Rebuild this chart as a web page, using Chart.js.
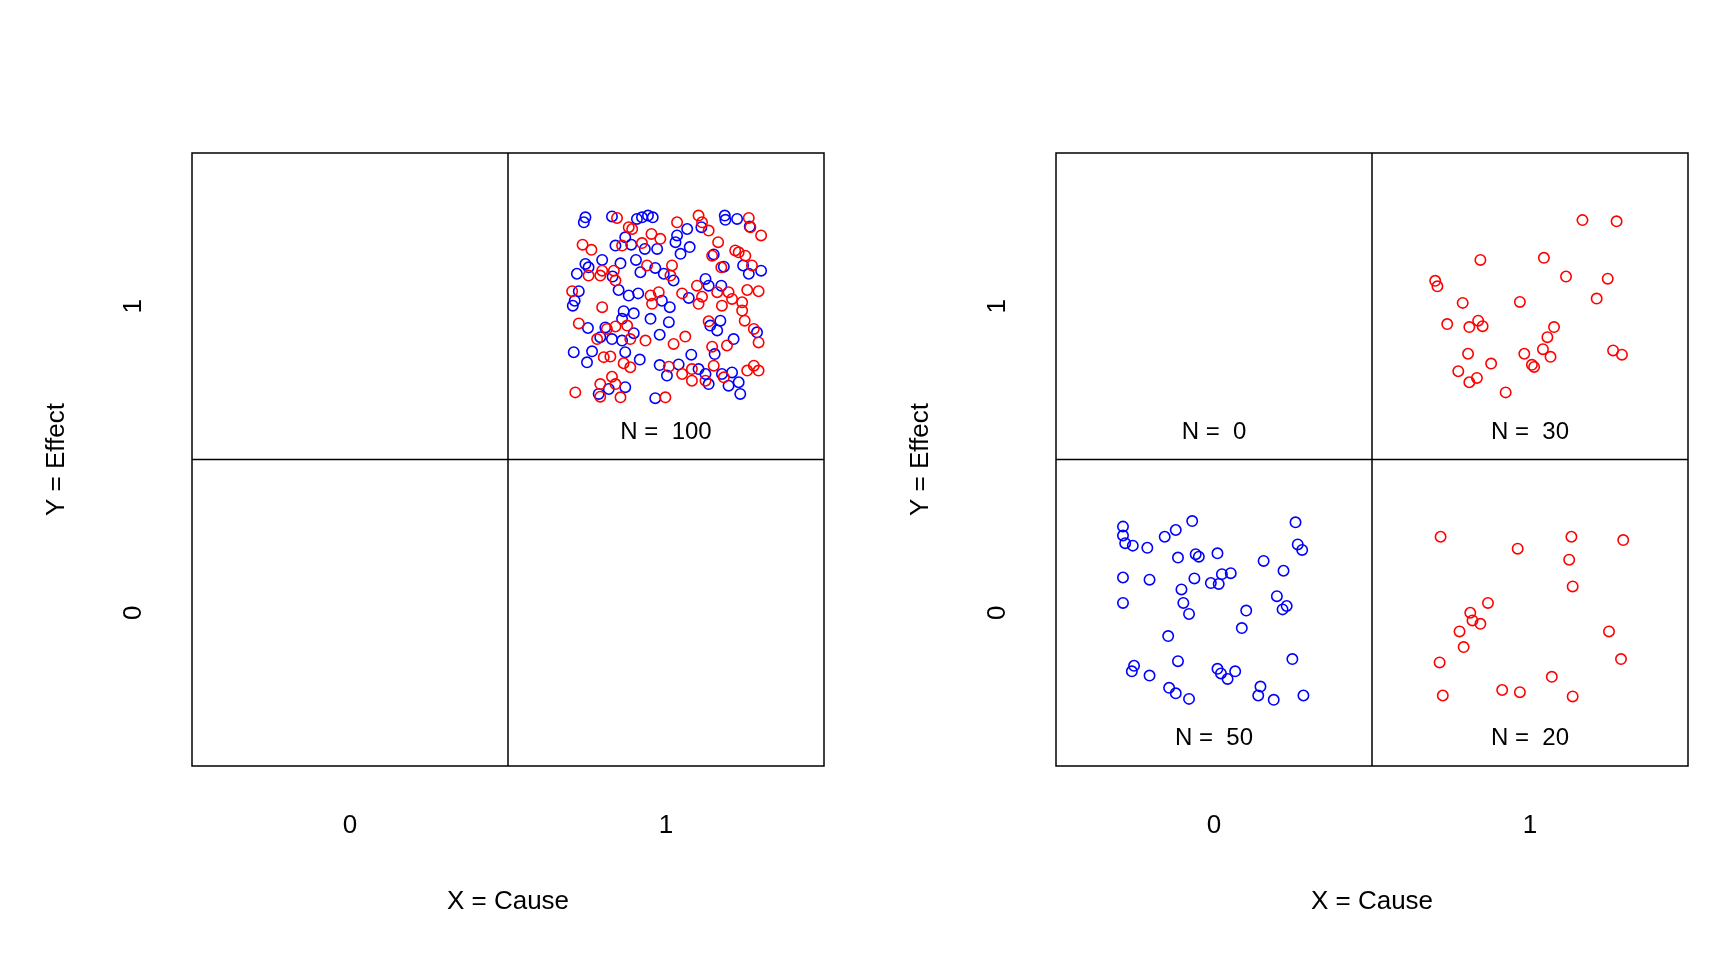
<!DOCTYPE html>
<html><head><meta charset="utf-8">
<script src="https://cdn.jsdelivr.net/npm/chart.js@4/dist/chart.umd.min.js"></script>
<style>html,body{margin:0;padding:0;background:#fff;width:1728px;height:960px;overflow:hidden}
canvas{position:absolute;top:0}</style></head><body>
<div style="position:absolute;left:0;top:0;width:864px;height:960px"><canvas id="c1"></canvas></div>
<div style="position:absolute;left:864px;top:0;width:864px;height:960px"><canvas id="c2"></canvas></div>
<script>
const xTickLabels=['0','1'];
const yTickLabels=['0','1'];
const xTitle='X = Cause', yTitle='Y = Effect';
const leftCounts=[['N =  100',1,1]];
const rightCounts=[['N =  0',0,1],['N =  30',1,1],['N =  50',0,0],['N =  20',1,0]];
const leftBlueX=[0.745,0.740,0.829,0.908,0.924,0.943,0.958,1.186,1.188,1.225,1.265,1.067,1.112,1.035,1.030,0.871,0.840,0.890,0.933,0.972,1.046,1.075,1.151,0.798,0.745,0.755,0.718,0.856,0.905,0.919,0.966,0.993,1.024,0.831,1.244,1.262,1.301,1.183,1.125,1.135,1.175,0.724,0.711,0.705,0.850,0.882,0.912,0.987,1.012,1.072,0.866,0.898,0.951,1.009,0.861,0.753,0.808,0.792,0.829,0.861,0.898,0.980,1.140,1.172,1.162,1.214,1.288,0.708,0.766,0.750,0.871,0.917,1.080,1.154,0.980,1.003,1.040,1.103,1.125,1.135,1.177,1.209,1.230,1.198,1.235,0.871,0.819,0.787,0.966];
const leftBlueY=[1.290,1.274,1.293,1.285,1.290,1.296,1.290,1.296,1.282,1.285,1.260,1.252,1.258,1.231,1.209,1.225,1.198,1.201,1.187,1.187,1.171,1.193,1.169,1.151,1.138,1.127,1.106,1.140,1.151,1.111,1.125,1.106,1.084,1.097,1.133,1.106,1.116,1.129,1.089,1.067,1.067,1.049,1.018,1.002,1.053,1.035,1.042,1.018,0.997,1.027,0.984,0.977,0.959,0.948,0.959,0.929,0.931,0.899,0.893,0.888,0.912,0.907,0.937,0.953,0.921,0.893,0.915,0.850,0.853,0.817,0.850,0.826,0.842,0.844,0.808,0.774,0.810,0.795,0.779,0.746,0.779,0.784,0.752,0.741,0.714,0.736,0.730,0.714,0.700];
const leftRedX=[0.845,0.882,0.893,1.035,1.103,1.114,1.135,1.262,1.267,1.301,0.736,0.764,0.954,0.982,0.924,0.861,1.165,1.219,1.230,1.251,1.146,1.175,1.272,1.019,0.940,0.798,0.755,0.792,0.835,0.840,1.014,0.703,0.798,0.951,0.977,0.956,1.051,1.098,1.114,1.103,1.162,1.198,1.209,1.177,1.241,1.241,1.257,1.293,1.135,1.249,1.278,0.724,0.813,0.840,0.877,0.782,0.887,0.935,1.024,1.061,1.146,1.193,1.293,0.803,0.824,0.866,0.887,1.009,1.051,1.082,1.082,1.151,1.183,1.257,1.278,1.293,0.829,0.792,0.840,0.713,0.792,0.856,0.998,1.125];
const leftRedY=[1.288,1.258,1.252,1.274,1.296,1.274,1.247,1.288,1.258,1.231,1.201,1.184,1.236,1.220,1.206,1.198,1.209,1.182,1.176,1.165,1.165,1.127,1.133,1.133,1.133,1.116,1.100,1.100,1.116,1.084,1.100,1.049,0.997,1.035,1.046,1.008,1.042,1.067,1.031,1.008,1.046,1.046,1.024,1.002,1.013,0.986,1.053,1.049,0.951,0.953,0.926,0.944,0.926,0.934,0.937,0.893,0.893,0.888,0.877,0.901,0.868,0.872,0.882,0.834,0.836,0.814,0.801,0.803,0.779,0.795,0.757,0.806,0.768,0.790,0.806,0.790,0.770,0.746,0.746,0.719,0.705,0.703,0.703,0.757];
const trRedX=[1.166,1.274,0.843,1.044,0.700,0.707,1.246,1.114,0.787,0.968,1.211,0.738,0.808,0.836,0.850,1.076,1.055,0.804,0.982,1.041,1.065,1.263,1.291,0.877,1.013,1.006,0.773,0.832,0.808,0.923];
const trRedY=[1.281,1.277,1.151,1.158,1.083,1.065,1.090,1.097,1.011,1.014,1.025,0.942,0.932,0.953,0.935,0.932,0.899,0.845,0.845,0.860,0.835,0.856,0.842,0.813,0.802,0.809,0.788,0.766,0.752,0.719];
const blBlueX=[-0.288,-0.288,-0.281,-0.257,-0.211,-0.156,-0.121,-0.069,0.258,0.265,0.279,-0.114,-0.058,-0.048,0.011,0.157,-0.288,-0.204,-0.062,-0.010,0.025,0.053,0.220,-0.103,0.015,-0.097,-0.288,-0.079,0.199,0.230,0.217,0.102,0.088,-0.145,-0.253,-0.260,-0.204,-0.114,0.011,0.022,0.067,0.043,-0.142,-0.121,-0.079,0.147,0.140,0.189,0.283,0.248];
const blBlueY=[0.281,0.252,0.227,0.219,0.212,0.248,0.270,0.299,0.295,0.223,0.205,0.180,0.191,0.183,0.194,0.169,0.115,0.108,0.112,0.097,0.126,0.129,0.137,0.076,0.094,0.032,0.032,-0.004,0.054,0.022,0.011,0.007,-0.050,-0.076,-0.173,-0.191,-0.205,-0.158,-0.183,-0.198,-0.191,-0.216,-0.245,-0.263,-0.281,-0.241,-0.270,-0.284,-0.270,-0.151];
const brRedX=[0.717,0.961,1.131,1.295,1.124,1.135,0.867,0.811,0.843,0.818,0.777,1.250,0.790,0.714,1.288,0.724,0.912,0.968,1.069,1.135];
const brRedY=[0.248,0.209,0.248,0.237,0.173,0.086,0.032,0.000,-0.036,-0.025,-0.061,-0.061,-0.112,-0.162,-0.151,-0.270,-0.252,-0.259,-0.209,-0.273];

const FONT='"Liberation Sans", Arial, sans-serif';
const pts=(xs,ys)=>xs.map((x,i)=>({x,y:ys[i]}));
const ds=(xs,ys,c)=>({data:pts(xs,ys),borderColor:c,backgroundColor:'rgba(0,0,0,0)',pointRadius:5.2,pointBorderWidth:1.6,pointHoverRadius:5.2,showLine:false});

function framePlugin(counts){return {id:'frame',afterDatasetsDraw(ch){
  const {ctx,chartArea:a,scales:{x,y}}=ch;
  ctx.save();ctx.strokeStyle='#000';ctx.lineWidth=1.5;
  ctx.strokeRect(a.left,a.top,a.right-a.left,a.bottom-a.top);
  ctx.beginPath();const mx=x.getPixelForValue(0.5),my=y.getPixelForValue(0.5);
  ctx.moveTo(mx,a.top);ctx.lineTo(mx,a.bottom);ctx.moveTo(a.left,my);ctx.lineTo(a.right,my);ctx.stroke();
  ctx.fillStyle='#000';ctx.textAlign='center';ctx.textBaseline='middle';
  ctx.font='26px '+FONT;
  xTickLabels.forEach((t,i)=>ctx.fillText(t,x.getPixelForValue(i),826));
  ctx.fillText(xTitle,(a.left+a.right)/2,902);
  yTickLabels.forEach((t,i)=>{ctx.save();ctx.translate(134,y.getPixelForValue(i));ctx.rotate(-Math.PI/2);ctx.fillText(t,0,0);ctx.restore();});
  ctx.save();ctx.translate(57,(a.top+a.bottom)/2);ctx.rotate(-Math.PI/2);ctx.fillText(yTitle,0,0);ctx.restore();
  ctx.font='24px '+FONT;
  counts.forEach(([t,cx,cy])=>ctx.fillText(t,x.getPixelForValue(cx),y.getPixelForValue(cy-0.41)));
  ctx.restore();}};}

function make(id,datasets,counts){
  return new Chart(document.getElementById(id),{type:'scatter',data:{datasets},
    options:{responsive:true,maintainAspectRatio:false,animation:false,
      layout:{padding:{left:192,right:40,top:153,bottom:194}},
      plugins:{legend:{display:false},tooltip:{enabled:false}},
      scales:{x:{type:'linear',min:-0.5,max:1.5,display:false},y:{type:'linear',min:-0.5,max:1.5,display:false}}},
    plugins:[framePlugin(counts)]});
}
make('c1',[ds(leftRedX,leftRedY,'#ff0000'),ds(leftBlueX,leftBlueY,'#0000ff')],leftCounts);
make('c2',[ds(trRedX,trRedY,'#ff0000'),ds(blBlueX,blBlueY,'#0000ff'),ds(brRedX,brRedY,'#ff0000')],rightCounts);
</script></body></html>
